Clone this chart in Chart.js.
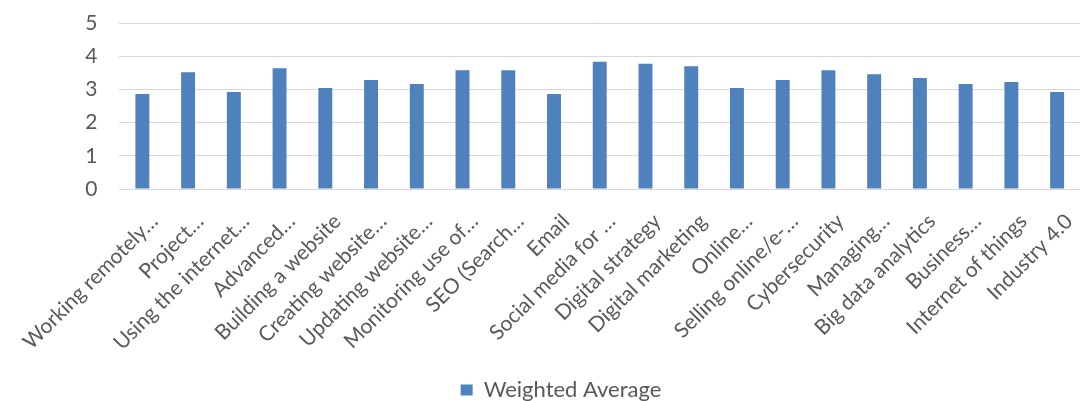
<!DOCTYPE html>
<html>
<head>
<meta charset="utf-8">
<script src="https://cdn.jsdelivr.net/npm/chart.js@4/dist/chart.umd.min.js"></script>
<style>
  html, body { margin: 0; padding: 0; background: #ffffff; }
  #wrap { width: 1087px; height: 401px; position: relative; }
</style>
</head>
<body>
<div id="wrap"><canvas id="c"></canvas></div>
<script>
const categories = [
  "Working remotely…", "Project…", "Using the internet…", "Advanced…",
  "Building a website", "Creating website…", "Updating website…",
  "Monitoring use of…", "SEO (Search…", "Email", "Social media for …",
  "Digital strategy", "Digital marketing", "Online…", "Selling online/e-…",
  "Cybersecurity", "Managing…", "Big data analytics", "Business…",
  "Internet of things", "Industry 4.0"
];
const seriesName = "Weighted Average";
const weightedAverage = [2.86, 3.52, 2.92, 3.64, 3.04, 3.28, 3.16, 3.58, 3.58, 2.86,
  3.83, 3.77, 3.70, 3.04, 3.28, 3.58, 3.46, 3.34, 3.16, 3.22, 2.92];
const yTicks = [0, 1, 2, 3, 4, 5];

const FONT = "Lato, 'Liberation Sans', sans-serif";
const TEXT = "#595959";

new Chart(document.getElementById('c'), {
  type: 'bar',
  data: {
    labels: categories,
    datasets: [{
      label: seriesName,
      data: weightedAverage,
      backgroundColor: '#4F81BD',
      borderWidth: 0,
      barPercentage: 0.305,
      categoryPercentage: 1.0
    }]
  },
  options: {
    responsive: true,
    maintainAspectRatio: false,
    animation: false,
    layout: { padding: { top: 23, right: 5, left: 40, bottom: -10 } },
    plugins: {
      legend: {
        position: 'bottom',
        labels: {
          color: TEXT,
          font: { family: FONT, size: 22 },
          boxWidth: 12, boxHeight: 11,
          padding: 0
        }
      },
      tooltip: { enabled: false }
    },
    scales: {
      x: {
        grid: { display: false },
        border: { display: false },
        ticks: {
          color: TEXT,
          font: { family: FONT, size: 21 },
          minRotation: 45, maxRotation: 45,
          autoSkip: false,
          padding: 12,
          labelOffset: 12
        },
        afterFit: (s) => { s.height = 190; }
      },
      y: {
        min: 0, max: 5,
        afterBuildTicks: (s) => { s.ticks = yTicks.map(v => ({ value: v })); },
        grid: { color: '#d9d9d9', lineWidth: 1, drawTicks: true, tickLength: 22, tickColor: 'rgba(0,0,0,0)' },
        border: { display: false },
        ticks: {
          color: TEXT,
          font: { family: FONT, size: 21 },
          padding: 0
        },
        afterFit: (s) => { s.width = 77; }
      }
    }
  }
});
</script>
</body>
</html>
